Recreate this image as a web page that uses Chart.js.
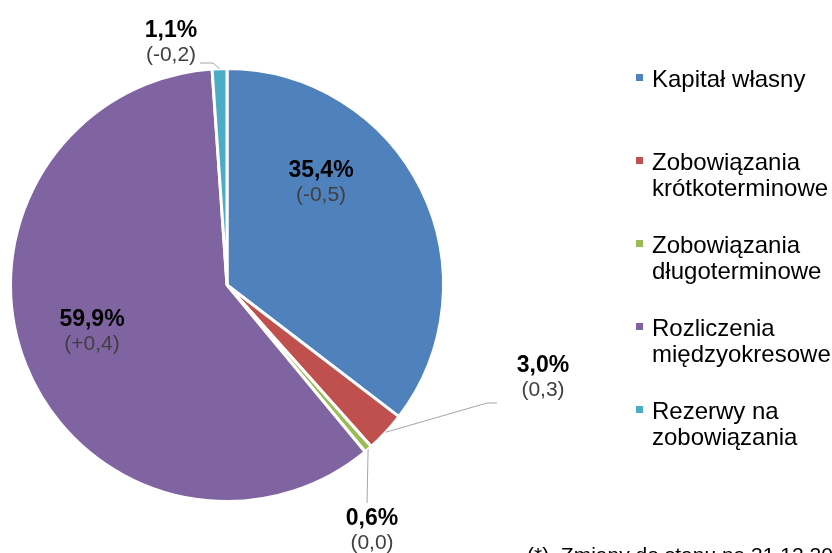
<!DOCTYPE html>
<html lang="pl">
<head>
<meta charset="utf-8">
<script src="https://cdn.jsdelivr.net/npm/chart.js@4/dist/chart.umd.min.js"></script>
<style>
  html, body { margin: 0; padding: 0; background: #fff; overflow: hidden; }
  canvas { display: block; }
</style>
</head>
<body>
<canvas id="pie" width="832" height="553"></canvas>
<script>
// dane
const categories = [
    ['Kapitał własny'],
    ['Zobowiązania', 'krótkoterminowe'],
    ['Zobowiązania', 'długoterminowe'],
    ['Rozliczenia', 'międzyokresowe'],
    ['Rezerwy na', 'zobowiązania']
];
const shares = [35.4, 3.0, 0.6, 59.9, 1.1];
const changes = ['(-0,5)', '(0,3)', '(0,0)', '(+0,4)', '(-0,2)'];
const colors = ['#4F81BD', '#C0504D', '#9BBB59', '#8064A2', '#4BACC6'];
const footnote = '(*)  Zmiany do stanu na 31.12.2017';

// położenie etykiet względem środka koła (px)
const labelLayout = [
    { text: [94, -108] },
    { line: [[260, 118], [270, 118]], text: [316, 87] },
    { line: [[140, 218]], text: [145, 240] },
    { text: [-135, 41] },
    { line: [[-14, -222], [-27, -222]], text: [-56, -248] }
];

const fmt = v => v.toFixed(1).replace('.', ',') + '%';

// ===== etykiety danych z liniami odniesienia =====
const labelsPlugin = {
    id: 'pieLabels',
    afterDatasetsDraw(chart) {
        const ctx = chart.ctx;
        const arcs = chart.getDatasetMeta(0).data;
        ctx.save();
        ctx.textAlign = 'center';
        ctx.textBaseline = 'alphabetic';
        arcs.forEach((arc, i) => {
            const lay = labelLayout[i];
            const cx = arc.x, cy = arc.y;
            if (lay.line) {
                const mid = (arc.startAngle + arc.endAngle) / 2;
                ctx.beginPath();
                ctx.moveTo(cx + Math.cos(mid) * arc.outerRadius, cy + Math.sin(mid) * arc.outerRadius);
                lay.line.forEach(p => ctx.lineTo(cx + p[0], cy + p[1]));
                ctx.strokeStyle = '#A6A6A6';
                ctx.lineWidth = 1;
                ctx.stroke();
            }
            const tx = cx + lay.text[0], ty = cy + lay.text[1];
            ctx.fillStyle = '#000';
            ctx.font = 'bold 23px "Liberation Sans", Arial, sans-serif';
            ctx.fillText(fmt(shares[i]), tx, ty);
            ctx.fillStyle = '#404040';
            ctx.font = '21px "Liberation Sans", Arial, sans-serif';
            ctx.fillText(changes[i], tx, ty + 24);
        });
        ctx.restore();
    }
};

// ===== legenda po prawej =====
const legendPlugin = {
    id: 'sideLegend',
    afterDraw(chart) {
        const ctx = chart.ctx;
        const labels = chart.data.labels;
        const bg = chart.data.datasets[0].backgroundColor;
        ctx.save();
        ctx.font = '24px "Liberation Sans", Arial, sans-serif';
        ctx.textAlign = 'left';
        ctx.textBaseline = 'alphabetic';
        labels.forEach((lines, i) => {
            const base = 87 + i * 83;
            ctx.fillStyle = bg[i];
            ctx.fillRect(636, base - 13, 7, 7);
            ctx.fillStyle = '#000';
            lines.forEach((t, j) => ctx.fillText(t, 652, base + j * 26));
        });
        ctx.font = '21px "Liberation Sans", Arial, sans-serif';
        ctx.fillText(footnote, 527, 562);
        ctx.restore();
    }
};

new Chart(document.getElementById('pie'), {
    type: 'pie',
    data: {
        labels: categories,
        datasets: [{
            data: shares,
            backgroundColor: colors,
            borderColor: '#fff',
            borderWidth: 3
        }]
    },
    options: {
        responsive: false,
        animation: false,
        devicePixelRatio: 1,
        layout: { padding: { left: 9, top: 67, right: 387, bottom: 50 } },
        plugins: {
            legend: { display: false },
            tooltip: { enabled: false }
        }
    },
    plugins: [labelsPlugin, legendPlugin]
});
</script>
</body>
</html>
